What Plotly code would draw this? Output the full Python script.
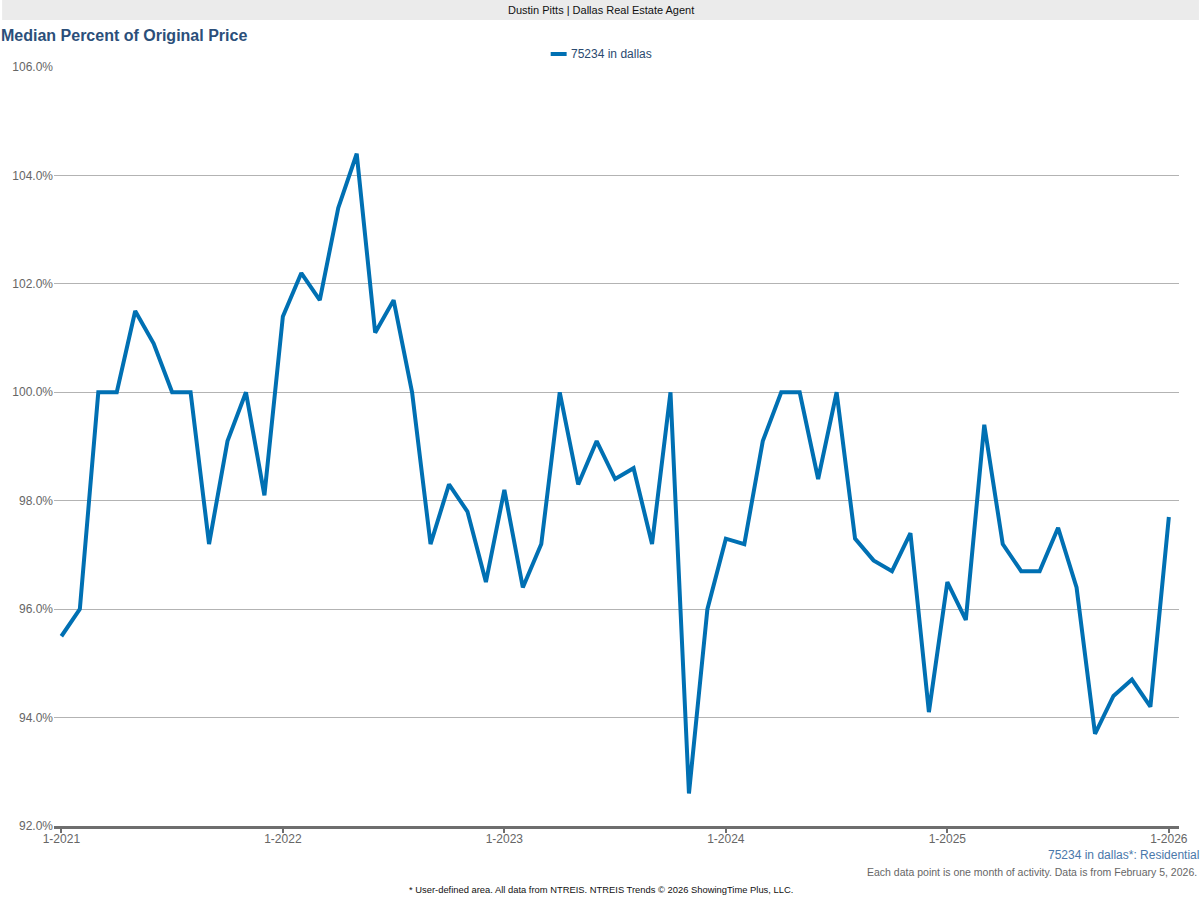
import plotly.graph_objects as go

months = [f"{m}-{y}" for y in range(2021, 2027) for m in range(1, 13)][:61]
values = [95.5, 96.0, 100.0, 100.0, 101.5, 100.9, 100.0, 100.0, 97.2, 99.1, 100.0, 98.1,
          101.4, 102.2, 101.7, 103.4, 104.4, 101.1, 101.7, 100.0, 97.2, 98.3, 97.8, 96.5,
          98.2, 96.4, 97.2, 100.0, 98.3, 99.1, 98.4, 98.6, 97.2, 100.0, 92.6, 96.0,
          97.3, 97.2, 99.1, 100.0, 100.0, 98.4, 100.0, 97.3, 96.9, 96.7, 97.4, 94.1,
          96.5, 95.8, 99.4, 97.2, 96.7, 96.7, 97.5, 96.4, 93.7, 94.4, 94.7, 94.2,
          97.7]
series_name = "75234 in dallas"
tick_idx = [0, 12, 24, 36, 48, 60]
tick_labels = ["1-2021", "1-2022", "1-2023", "1-2024", "1-2025", "1-2026"]
y_ticks = [92, 94, 96, 98, 100, 102, 104, 106]

W, H = 1200, 900
L, R, T, B = 52, 20, 67, 74
pw, ph = W - L - R, H - T - B

def px(x):
    return (x - L) / pw

def py(y):
    return (H - B - y) / ph

font = "Arial, Liberation Sans, sans-serif"
line_color = "#0070b3"

fig = go.Figure()
fig.add_trace(go.Scatter(
    x=list(range(len(values))), y=values, mode="lines",
    name=series_name, showlegend=False,
    line=dict(color=line_color, width=4),
    hovertext=months,
))

fig.update_layout(
    width=W, height=H,
    margin=dict(l=L, r=R, t=T, b=B),
    plot_bgcolor="white", paper_bgcolor="white",
    font=dict(family=font, size=12, color="#666666"),
    xaxis=dict(
        range=[-0.4, 60.55], tickmode="array", tickvals=tick_idx, ticktext=tick_labels,
        showgrid=False, zeroline=False, showline=True, linecolor="#6e6e6e", linewidth=3,
        ticks="outside", ticklen=4, tickwidth=2, tickcolor="#6e6e6e",
        ticklabelstandoff=-4,
        tickfont=dict(size=12, color="#666666"),
    ),
    yaxis=dict(
        range=[92, 106], tickmode="array", tickvals=y_ticks,
        ticktext=[f"{v:.1f}%" for v in y_ticks],
        showgrid=True, gridcolor="#b3b3b3", gridwidth=1, zeroline=False,
        showline=False, ticks="", tickfont=dict(size=12, color="#666666"),
    ),
    shapes=[
        dict(type="rect", xref="paper", yref="paper",
             x0=px(0), x1=px(W), y0=py(20), y1=py(0),
             fillcolor="#ebebeb", line=dict(width=0), layer="below"),
        dict(type="line", xref="paper", yref="paper",
             x0=px(550), x1=px(566), y0=py(54), y1=py(54),
             line=dict(color=line_color, width=4)),
    ],
    annotations=[
        dict(text="Dustin Pitts | Dallas Real Estate Agent", xref="paper", yref="paper",
             x=px(600), y=py(10), xanchor="center", yanchor="middle", showarrow=False,
             font=dict(size=11, color="#111111")),
        dict(text="<b>Median Percent of Original Price</b>", xref="paper", yref="paper",
             x=px(-3), y=py(35), xanchor="left", yanchor="middle", showarrow=False,
             font=dict(size=16, color="#2b4f7a")),
        dict(text=series_name, xref="paper", yref="paper",
             x=px(568), y=py(54), xanchor="left", yanchor="middle", showarrow=False,
             font=dict(size=12, color="#2b4a6f")),
        dict(text="75234 in dallas*: Residential", xref="paper", yref="paper",
             x=px(1202), y=py(855), xanchor="right", yanchor="middle", showarrow=False,
             font=dict(size=12, color="#4a78aa")),
        dict(text="Each data point is one month of activity. Data is from February 5, 2026.",
             xref="paper", yref="paper",
             x=px(1200), y=py(872), xanchor="right", yanchor="middle", showarrow=False,
             font=dict(size=10.5, color="#666666")),
        dict(text="* User-defined area. All data from NTREIS. NTREIS Trends © 2026 ShowingTime Plus, LLC.",
             xref="paper", yref="paper",
             x=px(600), y=py(889), xanchor="center", yanchor="middle", showarrow=False,
             font=dict(size=9.4, color="#111111")),
    ],
)

fig.write_html("out.html", config={"displayModeBar": False},
               post_script="document.body.style.margin='0';document.body.style.padding='0';")
